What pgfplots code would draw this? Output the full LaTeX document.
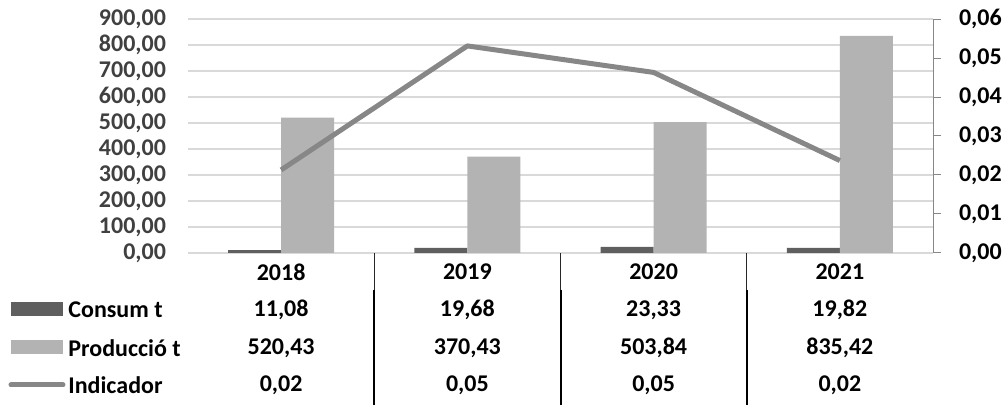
\documentclass[border=0pt]{standalone}
\usepackage{pgfplots}
\pgfplotsset{compat=1.18}
\usepackage{pgfplotstable}
\usepackage{fontspec}
\setmainfont{Carlito}

\definecolor{cons}{HTML}{5F5F5F}
\definecolor{prod}{HTML}{B3B3B3}
\definecolor{indc}{HTML}{878787}
\definecolor{gridc}{HTML}{D9D9D9}
\definecolor{lab}{HTML}{404040}

\pgfplotstableread{
x year cons prod ind consl prodl indl
0 2018 11.08 520.43 0.0213 11,08 520,43 0,02
1 2019 19.68 370.43 0.0531 19,68 370,43 0,05
2 2020 23.33 503.84 0.0463 23,33 503,84 0,05
3 2021 19.82 835.42 0.0237 19,82 835,42 0,02
}\datatable

\newcommand{\tf}{\fontsize{12}{14}\selectfont\bfseries}

\begin{document}
\begin{tikzpicture}
\useasboundingbox (-94pt,-76pt) rectangle (408pt,126.5pt);

\pgfplotsset{
  base/.style={
    at={(0,0)}, anchor=south west,
    scale only axis, width=372.5pt, height=117pt,
    xmin=-0.5, xmax=3.5, clip=false,
    /pgf/number format/assume math mode=true,
    every tick label/.append style={font=\tf},
  }
}

% left axis: bars, grid and data table
\begin{axis}[base,
    ymin=0, ymax=900, ytick={0,100,...,900},
    axis line style={draw=none},
    major tick length=0pt,
    ymajorgrids, grid style={gridc, line width=1pt},
    xtick={0,1,2,3}, xticklabels from table={\datatable}{year},
    xticklabel style={anchor=center, yshift=-9.5pt, text=black},
    yticklabel style={text=lab, xshift=-7.5pt},
    y tick label style={/pgf/number format/fixed, /pgf/number format/fixed zerofill,
      /pgf/number format/precision=2, /pgf/number format/use comma,
      /pgf/number format/1000 sep={}},
  ]
  \addplot[ybar, bar width=26.5pt, bar shift=-13.25pt, fill=cons, draw=none]
    table[x=x, y=cons] {\datatable};
  \addplot[ybar, bar width=26.5pt, bar shift=13.25pt, fill=prod, draw=none]
    table[x=x, y=prod] {\datatable};

  \addplot[draw=none, mark=none, nodes near coords, point meta=explicit symbolic,
    every node near coord/.style={anchor=center, font=\tf, text=black}]
    table[x=x, y expr=-219, meta=consl] {\datatable};
  \addplot[draw=none, mark=none, nodes near coords, point meta=explicit symbolic,
    every node near coord/.style={anchor=center, font=\tf, text=black}]
    table[x=x, y expr=-365, meta=prodl] {\datatable};
  \addplot[draw=none, mark=none, nodes near coords, point meta=explicit symbolic,
    every node near coord/.style={anchor=center, font=\tf, text=black}]
    table[x=x, y expr=-508, meta=indl] {\datatable};

  % separators of the data table
  \draw[black!85, line width=0.5pt] (axis cs:0.5,0) -- (axis cs:0.5,-142);
  \draw[black, line width=1pt] (axis cs:0.5,-142) -- (axis cs:0.5,-600);
  \draw[black!85, line width=0.5pt] (axis cs:1.5,0) -- (axis cs:1.5,-142);
  \draw[black, line width=1pt] (axis cs:1.5,-142) -- (axis cs:1.5,-600);
  \draw[black!85, line width=0.5pt] (axis cs:2.5,0) -- (axis cs:2.5,-142);
  \draw[black, line width=1pt] (axis cs:2.5,-142) -- (axis cs:2.5,-600);
\end{axis}

% right axis: indicator
\begin{axis}[base,
    axis y line*=right, axis x line=none,
    ymin=0, ymax=0.06, ytick={0,0.01,...,0.06},
    scaled y ticks=false,
    y axis line style={indc, line width=0.5pt},
    tick align=outside, major tick length=4pt,
    ytick style={indc, line width=0.5pt},
    yticklabel style={text=black, xshift=5.5pt},
    y tick label style={/pgf/number format/fixed, /pgf/number format/fixed zerofill,
      /pgf/number format/precision=2, /pgf/number format/use comma},
  ]
  \addplot[indc, line width=2.5pt, line join=round, mark=none]
    table[x=x, y=ind] {\datatable};
\end{axis}

% legend keys of the data table
\fill[cons] (-88.5pt,-24.5pt) rectangle (-62.5pt,-31.5pt);
\fill[prod] (-88.5pt,-43.5pt) rectangle (-62.5pt,-50.5pt);
\draw[indc, line width=2.5pt, line cap=round] (-88.5pt,-66pt) -- (-62.5pt,-66pt);
\node[anchor=west, font=\tf, inner sep=0pt] at (-60pt,-28.5pt) {Consum t};
\node[anchor=west, font=\tf, inner sep=0pt] at (-60pt,-47.5pt) {Producció t};
\node[anchor=west, font=\tf, inner sep=0pt] at (-60pt,-66pt) {Indicador};
\end{tikzpicture}
\end{document}
